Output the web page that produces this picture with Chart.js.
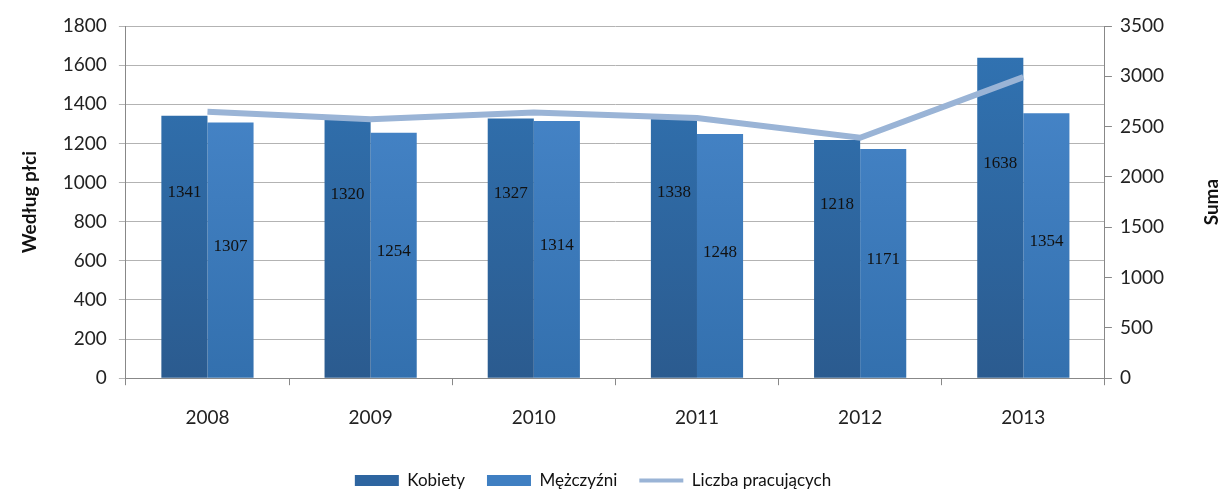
<!DOCTYPE html>
<html>
<head>
<meta charset="utf-8">
<script src="https://cdn.jsdelivr.net/npm/chart.js@4/dist/chart.umd.min.js"></script>
<style>
  html, body { margin: 0; padding: 0; background: #fff; }
  #wrap { width: 1223px; height: 490px; }
</style>
</head>
<body>
<div id="wrap"><canvas id="chart" width="1223" height="490"></canvas></div>
<script>
var years = ['2008', '2009', '2010', '2011', '2012', '2013']
var kobiety = [1341, 1320, 1327, 1338, 1218, 1638]
var mezczyzni = [1307, 1254, 1314, 1248, 1171, 1354]
var suma = [2648, 2574, 2641, 2586, 2389, 2992]
var leftTicks = [0, 200, 400, 600, 800, 1000, 1200, 1400, 1600, 1800]
var rightTicks = [0, 500, 1000, 1500, 2000, 2500, 3000, 3500]

var FONT = 'Lato, "Open Sans", sans-serif'

function barGradient(top, bottom) {
  return function (ctx) {
    var area = ctx.chart.chartArea
    if (!area) return bottom
    var g = ctx.chart.ctx.createLinearGradient(0, area.top, 0, area.bottom)
    g.addColorStop(0, top)
    g.addColorStop(1, bottom)
    return g
  }
}

// Excel-style labels drawn inside the bars, plus the right axis title
var extras = {
  id: 'extras',
  afterDatasetsDraw: function (chart) {
    var ctx = chart.ctx
    var y = chart.scales.y
    ctx.save()
    ctx.font = '17px "Liberation Serif", serif'
    ctx.fillStyle = '#111'
    ctx.textAlign = 'center'
    ctx.textBaseline = 'middle'
    ;[1, 2].forEach(function (di) {
      var meta = chart.getDatasetMeta(di)
      var vals = chart.data.datasets[di].data
      meta.data.forEach(function (bar, i) {
        var v = vals[i]
        var pos = di === 1 ? v * 0.5 + 280 : v * 0.5 + 20
        ctx.fillText(String(v), bar.x, y.getPixelForValue(pos))
      })
    })
    var a = chart.chartArea
    ctx.translate(1212, (a.top + a.bottom) / 2)
    ctx.rotate(-Math.PI / 2)
    ctx.font = 'bold 19px ' + FONT
    ctx.fillText('Suma', 0, 0)
    ctx.restore()
  }
}

var ctx = document.getElementById('chart').getContext('2d')
var chart = new Chart(ctx, {
  data: {
    labels: years,
    datasets: [
      {
        type: 'line',
        label: 'Liczba pracujących',
        data: suma,
        yAxisID: 'y2',
        borderColor: '#9ab4d6',
        backgroundColor: '#9ab4d6',
        borderWidth: 6,
        pointRadius: 0,
        tension: 0,
        order: 0
      },
      {
        type: 'bar',
        label: 'Kobiety',
        data: kobiety,
        yAxisID: 'y',
        backgroundColor: barGradient('#3174b4', '#2b5b8f'),
        barPercentage: 1,
        categoryPercentage: 0.565,
        order: 1
      },
      {
        type: 'bar',
        label: 'Mężczyźni',
        data: mezczyzni,
        yAxisID: 'y',
        backgroundColor: barGradient('#4a89cd', '#3370ae'),
        barPercentage: 1,
        categoryPercentage: 0.565,
        order: 1
      }
    ]
  },
  options: {
    responsive: false,
    animation: false,
    events: [],
    layout: { padding: { left: 14, right: 51, top: 26, bottom: -9 } },
    scales: {
      x: {
        grid: { display: true, drawOnChartArea: false, offset: true, color: '#888', tickLength: 7 },
        border: { color: '#888' },
        ticks: { color: '#222', font: { family: FONT, size: 19 }, padding: 21 }
      },
      y: {
        position: 'left',
        min: 0,
        max: 1800,
        afterBuildTicks: function (s) { s.ticks = leftTicks.map(function (v) { return { value: v } }) },
        grid: { color: '#b3b3b3', tickLength: 7 },
        border: { color: '#888' },
        ticks: { color: '#222', font: { family: FONT, size: 19 }, padding: 12, callback: function (v) { return String(v) } },
        title: { display: true, text: 'Według płci', color: '#111', font: { family: FONT, size: 19, weight: 'bold' }, padding: { bottom: 10 } }
      },
      y2: {
        position: 'right',
        min: 0,
        max: 3500,
        afterBuildTicks: function (s) { s.ticks = rightTicks.map(function (v) { return { value: v } }) },
        grid: { drawOnChartArea: false, color: '#888', tickLength: 7 },
        border: { color: '#888' },
        ticks: { color: '#222', font: { family: FONT, size: 19 }, padding: 8, callback: function (v) { return String(v) } }
      }
    },
    plugins: {
      legend: {
        position: 'bottom',
        labels: {
          color: '#111',
          font: { family: FONT, size: 17 },
          usePointStyle: true,
          pointStyleWidth: 44,
          boxHeight: 11,
          padding: 22,
          sort: function (a, b) { return ((a.datasetIndex + 2) % 3) - ((b.datasetIndex + 2) % 3) },
          generateLabels: function (chart) {
            var items = Chart.defaults.plugins.legend.labels.generateLabels(chart)
            items.forEach(function (it) {
              if (it.datasetIndex === 1) { it.fillStyle = '#2e65a0'; it.pointStyle = 'rect' }
              if (it.datasetIndex === 2) { it.fillStyle = '#3f7fc2'; it.pointStyle = 'rect' }
              if (it.datasetIndex === 0) { it.lineWidth = 4; it.fillStyle = '#9ab4d6'; it.pointStyle = 'line' }
              it.strokeStyle = it.fillStyle
              if (it.datasetIndex !== 0) it.lineWidth = 0
            })
            return items
          }
        }
      },
      tooltip: { enabled: false }
    }
  },
  plugins: [extras]
})
</script>
</body>
</html>
